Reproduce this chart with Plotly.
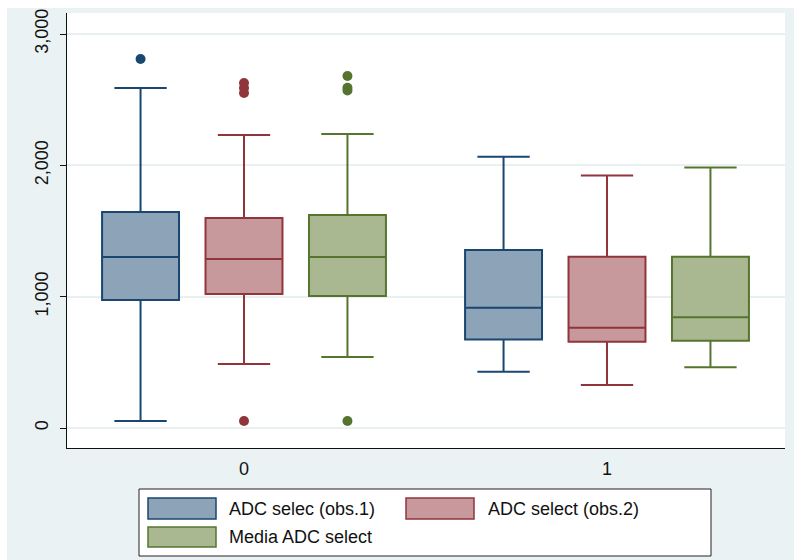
import plotly.graph_objects as go

# Groups on the x axis and the three measured series
groups = ["0", "1"]
series_names = ["ADC selec (obs.1)", "ADC select (obs.2)", "Media ADC select"]

# Box statistics per series, one value per group (0, 1)
lower_whisker = {
    "ADC selec (obs.1)": [53, 429],
    "ADC select (obs.2)": [487, 327],
    "Media ADC select": [541, 462],
}
q1 = {
    "ADC selec (obs.1)": [975, 675],
    "ADC select (obs.2)": [1020, 657],
    "Media ADC select": [1005, 665],
}
median = {
    "ADC selec (obs.1)": [1302, 916],
    "ADC select (obs.2)": [1287, 764],
    "Media ADC select": [1302, 843],
}
q3 = {
    "ADC selec (obs.1)": [1645, 1356],
    "ADC select (obs.2)": [1599, 1305],
    "Media ADC select": [1622, 1305],
}
upper_whisker = {
    "ADC selec (obs.1)": [2589, 2066],
    "ADC select (obs.2)": [2231, 1922],
    "Media ADC select": [2239, 1983],
}
# Outlying observations per series and group
outliers = {
    "ADC selec (obs.1)": [[2810], []],
    "ADC select (obs.2)": [[2627, 2589, 2551, 53], []],
    "Media ADC select": [[2680, 2590, 2570, 53], []],
}

line_colors = ["#1a476f", "#90353b", "#55752f"]
fill_colors = ["#8ca3b8", "#c8999c", "#aab892"]
offsets = [-0.285, 0.0, 0.285]

W, H = 794, 560
L, R, T, B = 67, 9, 13, 112
PW, PH = W - L - R, H - T - B


def px_x(p):
    return (p - L) / PW


def px_y(p):
    return (H - B - p) / PH


fig = go.Figure()

for k, name in enumerate(series_names):
    xs = [g + offsets[k] for g in range(len(groups))]
    fig.add_trace(go.Box(
        x=xs,
        q1=q1[name], median=median[name], q3=q3[name],
        lowerfence=lower_whisker[name], upperfence=upper_whisker[name],
        width=0.212, whiskerwidth=0.68,
        fillcolor=fill_colors[k],
        line=dict(color=line_colors[k], width=2),
        boxpoints=False, name=name, showlegend=False, hoverinfo="skip",
    ))
    ox, oy = [], []
    for g, vals in enumerate(outliers[name]):
        for v in vals:
            ox.append(g + offsets[k])
            oy.append(v)
    fig.add_trace(go.Scatter(
        x=ox, y=oy, mode="markers",
        marker=dict(color=line_colors[k], size=10, line=dict(width=0)),
        showlegend=False, hoverinfo="skip",
    ))

shapes = [
    # white outer border strips
    dict(type="rect", xref="paper", yref="paper", x0=px_x(0), x1=px_x(7),
         y0=px_y(H), y1=px_y(0), fillcolor="white", line=dict(width=0), layer="above"),
    dict(type="rect", xref="paper", yref="paper", x0=px_x(0), x1=px_x(W),
         y0=px_y(8), y1=px_y(0), fillcolor="white", line=dict(width=0), layer="above"),
    # legend frame
    dict(type="rect", xref="paper", yref="paper", x0=px_x(139), x1=px_x(711),
         y0=px_y(556), y1=px_y(489), fillcolor="white",
         line=dict(color="#222222", width=1), layer="above"),
]
annotations = []

legend_slots = [(148, 498, 519, 227), (406, 498, 519, 486), (148, 527, 547, 227)]
for k, name in enumerate(series_names):
    sx, sy0, sy1, tx = legend_slots[k]
    shapes.append(dict(
        type="rect", xref="paper", yref="paper",
        x0=px_x(sx), x1=px_x(sx + 68), y0=px_y(sy1), y1=px_y(sy0),
        fillcolor=fill_colors[k], line=dict(color=line_colors[k], width=1.5),
        layer="above",
    ))
    annotations.append(dict(
        xref="paper", yref="paper", x=px_x(tx), y=px_y((sy0 + sy1) / 2),
        text=name, showarrow=False, xanchor="left", yanchor="middle",
        font=dict(size=18, color="#111111", family="Liberation Sans, Arial"),
    ))

fig.update_layout(
    width=W, height=H,
    margin=dict(l=L, r=R, t=T, b=B),
    paper_bgcolor="#eaf2f3",
    plot_bgcolor="white",
    font=dict(family="Liberation Sans, Arial", color="#111111"),
    shapes=shapes,
    annotations=annotations,
    showlegend=False,
)
fig.update_xaxes(
    range=[(L - 244) / 363, (W - R - 244) / 363],
    tickvals=list(range(len(groups))), ticktext=groups,
    showgrid=False, zeroline=False,
    showline=True, linecolor="#111111", linewidth=1.3,
    ticks="", tickfont=dict(size=18), ticklabelstandoff=4,
)
fig.update_yaxes(
    range=[-152, 3160],
    tickvals=[0, 1000, 2000, 3000], tickformat=",",
    tickangle=-90, tickfont=dict(size=18), ticklabelstandoff=5,
    showgrid=True, gridcolor="#e8f0f2", gridwidth=1.5,
    zeroline=False,
    showline=True, linecolor="#111111", linewidth=1.3,
    ticks="outside", ticklen=6, tickcolor="#111111", tickwidth=1,
)

fig.write_html("out.html")
